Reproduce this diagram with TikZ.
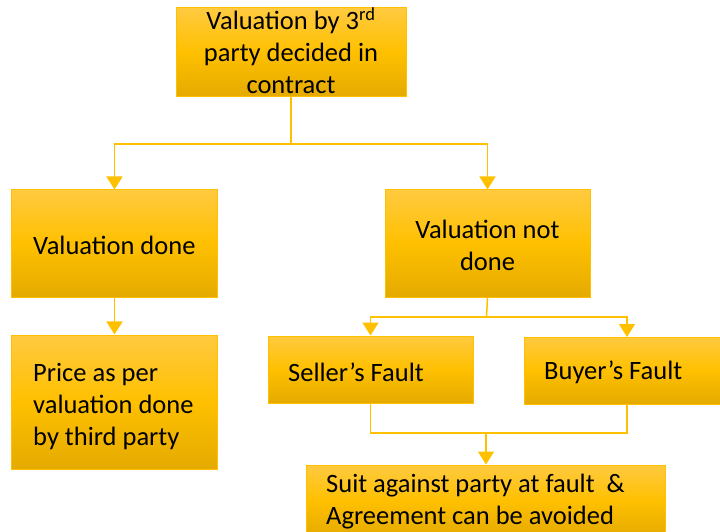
\documentclass[tikz,border=0pt]{standalone}
\usepackage{fontspec}
\setmainfont{Carlito}
\usetikzlibrary{arrows.meta,positioning}
\definecolor{goldline}{RGB}{255,192,0}
\definecolor{goldtop}{RGB}{255,202,64}
\definecolor{goldmid}{RGB}{255,192,0}
\definecolor{goldbot}{RGB}{228,170,0}
\tikzset{
  box/.style={rectangle, draw=goldline, line width=1bp,
    top color=goldtop, bottom color=goldbot, middle color=goldmid,
    inner sep=0pt},
  txt/.style={font=\fontsize{26.5bp}{32bp}\selectfont, text=black,
    inner sep=0pt},
  ltxt/.style={txt, align=flush left, anchor=west},
  ctxt/.style={txt, align=flush center},
  conn/.style={draw=goldline, line width=1.5bp},
  arr/.style={conn, -{Triangle[width=16bp,length=13bp]}}
}
\begin{document}
\begin{tikzpicture}[x=1bp,y=-1bp]
  \useasboundingbox (0,0) rectangle (720,532);

  % boxes
  \node[box, minimum width=230bp, minimum height=89bp]  (top)    at (291,52.5) {};
  \node[box, minimum width=205bp, minimum height=107bp] (vd)     at (114.5,243.5) {};
  \node[box, minimum width=205bp, minimum height=107bp] (vnd)    at (487.5,243.5) {};
  \node[box, minimum width=205bp, minimum height=134bp] (price)  at (114.5,402) {};
  \node[box, minimum width=205bp, minimum height=67bp]  (seller) at (370.5,369.5) {};
  \node[box, minimum width=196bp, minimum height=67bp]  (buyer)  at (622,370.5) {};
  \node[box, minimum width=359bp, minimum height=72bp]  (suit)   at (486,501) {};

  % labels
  \node[ctxt] (top-t) at (291,51) {Valuation by 3\textsuperscript{rd}\\party decided in\\contract};
  \node[ctxt] (vnd-t) at (487.5,245) {Valuation not\\done};
  \node[ltxt] (vd-t)     at (33,245) {Valuation done};
  \node[ltxt] (price-t)  at (33,407) {Price as per\\valuation done\\by third party};
  \node[ltxt] (seller-t) at (288,372) {Seller’s Fault};
  \node[ltxt] (buyer-t)  at (544,372) {Buyer’s Fault};
  \node[ltxt] (suit-t)   at (326,501.5) {Suit against party at fault~~\&\\Agreement can be avoided};

  % junction points
  \coordinate (j1) at (291,144);
  \coordinate (j2) at (486.5,317);
  \coordinate (j3) at (486,433);
  \coordinate (bn) at (627,337);
  \coordinate (bs) at (627,404);

  % connectors
  \draw[conn] (top.south) -- (j1);
  \draw[arr] (j1) -| (vd.north);
  \draw[arr] (j1) -| (vnd.north);
  \draw[arr] (vd.south) -- (price.north);
  \draw[conn] (vnd.south) -- (j2);
  \draw[arr] (j2) -| (seller.north);
  \draw[arr] (j2) -| (bn);
  \draw[conn] (seller.south) |- (j3);
  \draw[conn] (bs) |- (j3);
  \draw[arr] (j3) -- (suit.north);
\end{tikzpicture}
\end{document}
